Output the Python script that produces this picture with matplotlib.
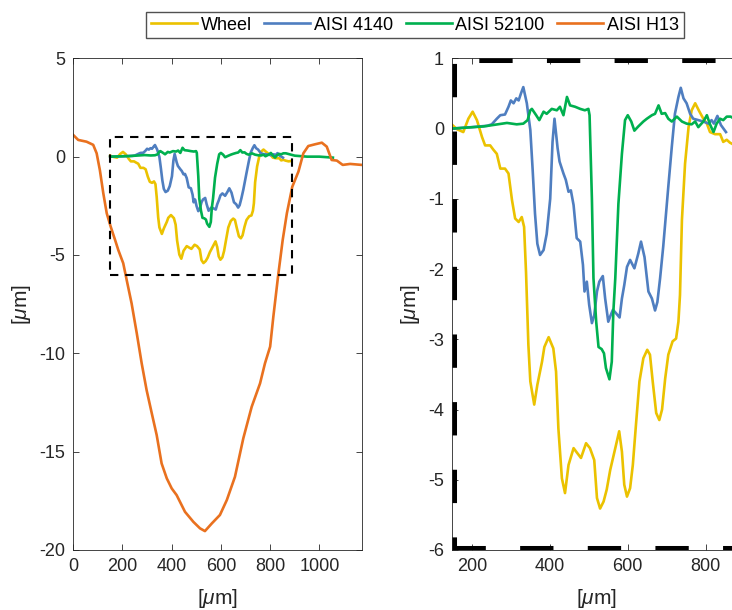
import matplotlib
matplotlib.use('Agg')
import matplotlib.pyplot as plt

# profile data [um]
wheel_x = [150, 162, 178, 191, 202, 213, 226, 234, 247, 255,
           264, 273, 285, 294, 303, 311, 320, 328, 334, 339,
           345, 350, 360, 368, 380, 386, 397, 409, 416, 422,
           431, 439, 448, 461, 469, 480, 493, 503, 514, 521,
           529, 538, 546, 555, 568, 578, 585, 591, 598, 606,
           613, 621, 630, 640, 650, 657, 664, 673, 681, 688,
           696, 704, 715, 724, 730, 734, 739, 747, 756, 764,
           773, 784, 794, 803, 811, 824, 837, 845, 854, 862,
           875, 885]
wheel_y = [0.05, -0.01, -0.05, 0.14, 0.24, 0.12, -0.12, -0.24, -0.24, -0.30,
           -0.36, -0.57, -0.57, -0.64, -1.02, -1.28, -1.33, -1.26, -1.40, -2.05,
           -3.08, -3.60, -3.93, -3.65, -3.32, -3.11, -2.97, -3.13, -3.46, -4.27,
           -4.98, -5.19, -4.79, -4.55, -4.61, -4.69, -4.48, -4.55, -4.72, -5.26,
           -5.41, -5.31, -5.14, -4.86, -4.55, -4.31, -4.60, -5.07, -5.24, -5.12,
           -4.79, -4.22, -3.60, -3.27, -3.15, -3.22, -3.60, -4.05, -4.15, -4.00,
           -3.56, -3.22, -3.03, -2.99, -2.75, -2.37, -1.30, -0.50, 0.02, 0.26,
           0.36, 0.24, 0.14, 0.07, -0.05, -0.08, -0.08, -0.19, -0.16, -0.20,
           -0.24, -0.22]

aisi4140_x = [150, 200, 240, 251, 264, 273, 285, 294, 300, 307,
              314, 320, 326, 332, 341, 350, 356, 362, 368, 375,
              384, 392, 401, 407, 412, 420, 425, 435, 441, 448,
              454, 461, 469, 478, 485, 489, 495, 501, 508, 514,
              521, 527, 536, 542, 550, 556, 562, 570, 579, 585,
              591, 598, 606, 617, 627, 634, 643, 653, 662, 670,
              676, 683, 691, 704, 713, 721, 730, 736, 743, 751,
              760, 768, 781, 794, 807, 815, 821, 830, 839, 852]
aisi4140_y = [0.0, 0.02, 0.04, 0.06, 0.14, 0.19, 0.20, 0.31, 0.40, 0.36,
              0.43, 0.40, 0.50, 0.59, 0.36, -0.02, -0.59, -1.21, -1.64, -1.80,
              -1.73, -1.50, -1.00, -0.19, 0.14, -0.28, -0.47, -0.64, -0.73, -0.90,
              -0.88, -1.09, -1.56, -1.61, -1.94, -2.32, -2.18, -2.51, -2.77, -2.66,
              -2.32, -2.18, -2.10, -2.42, -2.75, -2.66, -2.58, -2.63, -2.69, -2.42,
              -2.23, -1.97, -1.87, -1.99, -1.78, -1.61, -1.83, -2.32, -2.42, -2.59,
              -2.47, -2.13, -1.68, -0.83, -0.26, 0.21, 0.45, 0.58, 0.43, 0.36,
              0.21, 0.14, 0.12, 0.10, 0.07, 0.12, 0.07, 0.18, 0.05, -0.05]

aisi52100_x = [150, 230, 290, 315, 332, 343, 350, 354, 365, 373,
               384, 392, 405, 418, 426, 435, 444, 452, 465, 478,
               490, 499, 502, 508, 512, 519, 525, 533, 539, 544,
               553, 559, 563, 568, 576, 585, 593, 600, 609, 617,
               627, 640, 649, 662, 670, 679, 687, 696, 704, 713,
               726, 739, 751, 764, 773, 781, 794, 803, 811, 820,
               828, 837, 845, 854, 864, 900, 950, 1000, 1055]
aisi52100_y = [0.0, 0.03, 0.08, 0.06, 0.07, 0.12, 0.26, 0.28, 0.19, 0.12,
               0.24, 0.21, 0.28, 0.26, 0.31, 0.19, 0.45, 0.33, 0.31, 0.28,
               0.26, 0.28, 0.19, -1.00, -2.13, -2.75, -3.11, -3.14, -3.20, -3.41,
               -3.57, -3.32, -2.61, -2.13, -1.07, -0.36, 0.12, 0.19, 0.10, -0.03,
               0.03, 0.10, 0.14, 0.19, 0.21, 0.33, 0.21, 0.22, 0.14, 0.10,
               0.17, 0.10, 0.07, 0.06, 0.10, 0.02, 0.10, 0.19, 0.06, -0.05,
               0.07, 0.14, 0.12, 0.17, 0.17, 0.05, 0.0, 0.0, -0.05]

h13_x = [0, 20, 54, 81, 95, 108, 122, 136, 152, 170,
         183, 203, 217, 237, 258, 278, 298, 319, 339, 359,
         380, 400, 420, 454, 488, 515, 535, 563, 596, 624,
         657, 691, 725, 759, 779, 800, 813, 833, 851, 868,
         890, 915, 935, 955, 983, 1010, 1030, 1050, 1071, 1095,
         1125, 1172]
h13_y = [1.10, 0.85, 0.76, 0.60, 0.17, -0.68, -1.86, -2.88, -3.56, -4.24,
         -4.75, -5.42, -6.27, -7.46, -8.98, -10.51, -11.87, -13.05, -14.16, -15.60,
         -16.36, -16.87, -17.21, -18.06, -18.57, -18.90, -19.04, -18.65, -18.22, -17.46,
         -16.28, -14.32, -12.72, -11.53, -10.51, -9.66, -8.14, -6.00, -4.24, -2.88,
         -1.53, -0.76, 0.17, 0.54, 0.63, 0.71, 0.51, -0.17, -0.20, -0.42,
         -0.37, -0.42]

# zoom window
box_x = [150, 890]
box_y = [-6, 1]

labels = ['Wheel', 'AISI 4140', 'AISI 52100', 'AISI H13']
colors = ['#EBC200', '#4F7EC0', '#00B04F', '#E9711F']

plt.rcParams['font.family'] = ['Liberation Sans', 'DejaVu Sans']
plt.rcParams['mathtext.fontset'] = 'custom'
plt.rcParams['mathtext.rm'] = 'Liberation Sans'
plt.rcParams['mathtext.it'] = 'Liberation Sans:italic'
plt.rcParams['font.size'] = 13
plt.rcParams['axes.unicode_minus'] = False
plt.rcParams['lines.scale_dashes'] = False

fig = plt.figure(figsize=(7.32, 6.10), dpi=100)
ax1 = fig.add_axes([0.1001, 0.0984, 0.394, 0.806])
ax2 = fig.add_axes([0.618, 0.0984, 0.394, 0.806])

series = [(wheel_x, wheel_y), (aisi4140_x, aisi4140_y),
          (aisi52100_x, aisi52100_y), (h13_x, h13_y)]

# left: full profiles
lines = []
for (x, y), lab, c in zip(series, labels, colors):
    ln, = ax1.plot(x, y, color=c, lw=1.9, label=lab)
    lines.append(ln)
rect_x = [box_x[0], box_x[1], box_x[1], box_x[0], box_x[0]]
rect_y = [box_y[0], box_y[0], box_y[1], box_y[1], box_y[0]]
ax1.plot(rect_x, rect_y, color='black', lw=1.5, dashes=(6, 5))
ax1.set_xlim(0, 1172)
ax1.set_ylim(-20, 5)
ax1.set_xticks([0, 200, 400, 600, 800, 1000])
ax1.set_yticks([-20, -15, -10, -5, 0, 5])

# right: zoomed in, window frame drawn side by side so the dash phase stays put
for (x, y), c in zip(series[:3], colors[:3]):
    ax2.plot(x, y, color=c, lw=1.9)
dash = (24, 24.7)
ax2.plot(box_x, [box_y[0]] * 2, color='black', lw=6.5, linestyle=(0, dash))
ax2.plot(box_x, [box_y[1]] * 2, color='black', lw=6.5, linestyle=(29.4, dash))
ax2.plot([box_x[0]] * 2, [box_y[1], box_y[0]], color='black', lw=6.5,
         linestyle=(44.8, dash))
ax2.set_xlim(box_x)
ax2.set_ylim(box_y)
ax2.set_xticks([200, 400, 600, 800])
ax2.set_yticks(range(-6, 2))

for ax in (ax1, ax2):
    ax.set_xlabel(r'[$\mu$m]', color='#262626', fontsize=15)
    ax.set_ylabel(r'[$\mu$m]', color='#262626', fontsize=15)
    ax.tick_params(direction='in', length=4, width=0.6, top=True, right=True,
                   colors='#262626', labelcolor='#262626', pad=6)
    for s in ax.spines.values():
        s.set_linewidth(0.6)
        s.set_color('#262626')

ax1.yaxis.set_label_coords(-0.14, 0.5)
ax2.yaxis.set_label_coords(-0.105, 0.5)
ax1.xaxis.set_label_coords(0.5, -0.075)
ax2.xaxis.set_label_coords(0.5, -0.075)

fig.legend(handles=lines, loc='center', bbox_to_anchor=(415 / 732, 1 - 25 / 610),
           ncol=4, frameon=True, fancybox=False, edgecolor='#262626',
           handlelength=2.55, handletextpad=0.2, columnspacing=0.7,
           borderpad=0.25, borderaxespad=0, fontsize=13)

fig.savefig('out.png', dpi=100)
